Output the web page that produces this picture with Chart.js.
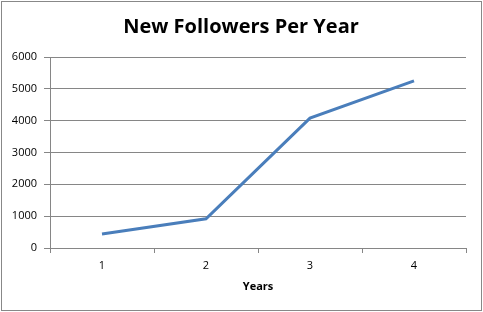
<!DOCTYPE html>
<html>
<head>
<meta charset="utf-8">
<script src="https://cdn.jsdelivr.net/npm/chart.js@4"></script>
<style>
  body { margin: 0; background: #fff; }
  .box { position: relative; width: 483px; height: 312px; }
  .frame {
    position: absolute; left: 1px; top: 1px; width: 479px; height: 308px;
    border: 1px solid #888; pointer-events: none;
  }
</style>
</head>
<body>
<div class="box">
  <canvas id="chart" width="483" height="312"></canvas>
  <div class="frame"></div>
</div>
<script>
const years = ['1', '2', '3', '4'];
const followers = [440, 920, 4080, 5250];
const yTicks = [0, 1000, 2000, 3000, 4000, 5000, 6000];

const gridColor = '#868686';

new Chart(document.getElementById('chart').getContext('2d'), {
  type: 'line',
  data: {
    labels: years,
    datasets: [
      {
        label: 'New Followers',
        data: followers,
        borderColor: '#4a7ebb',
        backgroundColor: '#4a7ebb',
        borderWidth: 3,
        pointRadius: 0,
        tension: 0,
        fill: false,
        yAxisID: 'y',
      },
    ],
  },
  options: {
    responsive: false,
    animation: false,
    layout: {
      padding: { left: 8, right: 9, top: 1, bottom: 0 },
    },
    scales: {
      x: {
        offset: true,
        grid: {
          offset: true,
          drawOnChartArea: false,
          drawTicks: true,
          tickLength: 5,
          color: gridColor,
        },
        border: { display: true, color: gridColor },
        ticks: {
          color: '#000',
          padding: 6,
          font: { family: 'Open Sans', size: 11 },
        },
        title: {
          display: true,
          text: 'Years',
          color: '#000',
          padding: { top: 0, bottom: 19 },
          font: { family: 'Open Sans', size: 11, weight: 'bold' },
        },
        afterFit: (scale) => { scale.height = 64; },
      },
      y: {
        min: 0,
        max: 6000,
        afterBuildTicks: (scale) => {
          scale.ticks = yTicks.map((v) => ({ value: v }));
        },
        grid: {
          color: gridColor,
          drawTicks: true,
          tickLength: 6,
        },
        border: { display: true, color: gridColor },
        ticks: {
          color: '#000',
          padding: 7,
          font: { family: 'Open Sans', size: 11 },
          callback: (value) => String(value),
        },
        afterFit: (scale) => { scale.width = 42; },
      },
      // empty right-hand spacer so the plot stops short of the frame
      spacer: {
        position: 'right',
        min: 0,
        max: 6000,
        grid: { display: false, drawTicks: false },
        border: { display: false },
        ticks: { display: false },
        afterFit: (scale) => { scale.width = 8; },
      },
    },
    plugins: {
      legend: { display: false },
      tooltip: { enabled: false },
      title: {
        display: true,
        text: 'New Followers Per Year',
        color: '#000',
        padding: { top: 14, bottom: 18 },
        font: { family: 'Open Sans', size: 20, weight: 'bold', lineHeight: 1.2 },
      },
    },
  },
});
</script>
</body>
</html>
